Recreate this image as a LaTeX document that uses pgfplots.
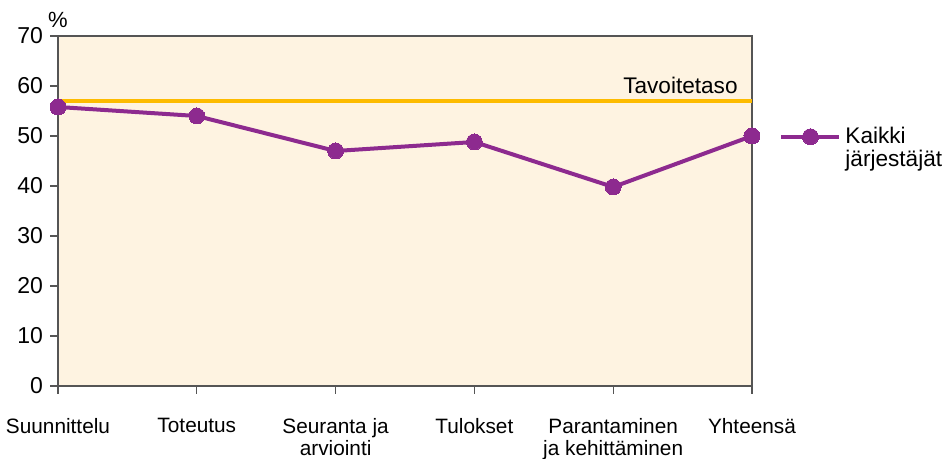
\documentclass[border=0pt]{standalone}
\usepackage{pgfplots}
\pgfplotsset{compat=1.18}
\usepackage{fontspec}
\setmainfont{Liberation Sans}
\definecolor{bgc}{HTML}{FEF3E1}
\definecolor{purp}{HTML}{8D2A8F}
\definecolor{gold}{HTML}{FDBB00}
\definecolor{axgray}{HTML}{555555}
\begin{document}
\begin{tikzpicture}
\useasboundingbox (0,0) rectangle (473pt,229.5pt);
\begin{axis}[
  at={(29pt,36.5pt)}, anchor=south west,
  scale only axis, width=347pt, height=175pt,
  xmin=0, xmax=5, ymin=0, ymax=70,
  xtick={0,1,2,3,4,5},
  xticklabels={Suunnittelu,Toteutus,{Seuranta ja\\arviointi},Tulokset,{Parantaminen\\ja kehittäminen},Yhteensä},
  xticklabel style={align=center, font=\fontsize{10.4}{11}\selectfont, anchor=north, yshift=-8.5pt},
  ytick={0,10,...,70},
  yticklabel style={font=\fontsize{11.5}{12}\selectfont},
  /pgf/number format/assume math mode=true,
  tick align=outside, xtick pos=bottom, ytick pos=left,
  major tick length=4pt,
  axis line style={draw=axgray, line width=0.6pt},
  every tick/.style={draw=axgray, line width=0.6pt},
  axis background/.style={fill=bgc},
  clip=false,
  legend cell align=left,
  legend image code/.code={\draw[mark repeat=2,mark phase=2,#1] plot coordinates {(0pt,0pt)(14.5pt,0pt)(29pt,0pt)};},
  legend style={draw=none, fill=none, inner sep=0pt, at={(axis description cs:1.039,0.712)}, anchor=west,
    font=\fontsize{11.3}{11.5}\selectfont, /tikz/every even column/.style={column sep=0pt}},
]
\addplot[gold, line width=2pt, forget plot] coordinates {(0,57) (5,57)};
\addplot[purp, line width=2pt, mark=*, mark size=4pt, mark options={fill=purp, draw=purp, line width=0pt}]
  coordinates {(0,55.8) (1,54.0) (2,47.0) (3,48.8) (4,39.8) (5,50.0)};
\addlegendentry{\begin{tabular}[t]{@{}l@{}}Kaikki\\järjestäjät\end{tabular}}
\node[anchor=base east, inner sep=0pt, font=\fontsize{11.3}{12}\selectfont, xshift=-7pt, yshift=3.5pt] at (axis cs:5,57) {Tavoitetaso};
\node[anchor=base, inner sep=0pt, font=\fontsize{11}{12}\selectfont, yshift=4pt] at (rel axis cs:0,1) {\%};
\end{axis}
\end{tikzpicture}
\end{document}
